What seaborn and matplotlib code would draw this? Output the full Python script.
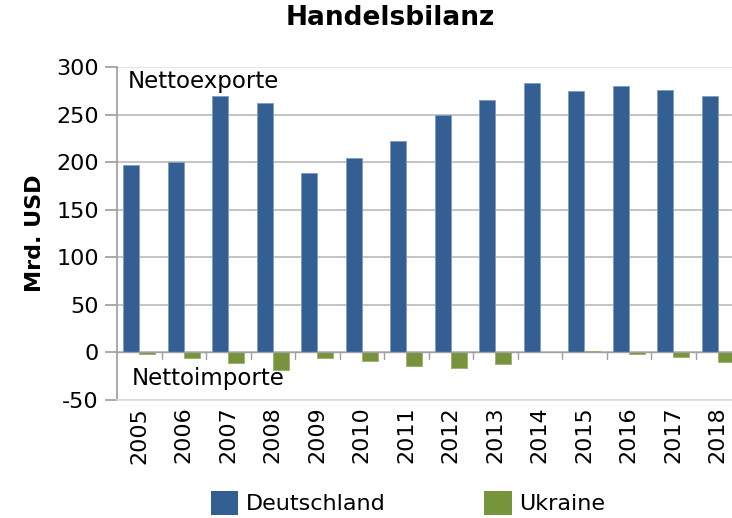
import matplotlib
matplotlib.use("Agg")
import matplotlib.pyplot as plt
import seaborn as sns
import pandas as pd
from matplotlib.patches import Patch

years = [str(y) for y in range(2005, 2019)]
deutschland = [197, 200, 270, 262, 189, 204, 222, 250, 265, 283, 275, 280, 276, 270]
ukraine = [-2, -6, -11.5, -18, -6, -9, -14, -16, -12.5, 0, 1.5, -1.5, -5, -10]
series = ["Deutschland", "Ukraine"]
colors = ["#335f93", "#77933c"]

df = pd.DataFrame({
    "Jahr": years * 2,
    "Wert": deutschland + ukraine,
    "Land": [series[0]] * len(years) + [series[1]] * len(years),
})

sns.set_theme(style="white")
plt.rcParams['font.family'] = ['DejaVu Sans']
plt.rcParams['axes.unicode_minus'] = False
plt.rcParams['text.color'] = 'black'
plt.rcParams['axes.labelcolor'] = 'black'
plt.rcParams['xtick.color'] = 'black'
plt.rcParams['ytick.color'] = 'black'

fig = plt.figure(figsize=(7.32, 5.18), dpi=100)
ax = fig.add_axes([117 / 732, 1 - 400 / 518, 623 / 732, 333 / 518])

sns.barplot(data=df, x="Jahr", y="Wert", hue="Land", palette=colors,
            width=0.71, ax=ax, legend=False, saturation=1, zorder=2,
            linewidth=0.6, edgecolor="#7f9cc0")
for p in ax.patches:
    if p.get_facecolor()[1] > 0.5:
        p.set_edgecolor("#9ab06a")

ax.set_xlim(-0.5, len(years) - 0.5)
ax.set_ylim(-50, 300)
ax.set_yticks(range(-50, 301, 50))
ax.yaxis.grid(True, color="#b4b4b4", lw=1.1)
ax.get_ygridlines()[-1].set_color("#dcdcdc")
ax.get_ygridlines()[0].set_color("#dcdcdc")
ax.set_axisbelow(True)
ax.tick_params(axis="y", labelsize=16, length=9, color="#a0a0a0", labelcolor="black",
               direction="out", pad=4, left=True)
ax.set_xticks([])
ax.set_xlabel("")
ax.set_ylabel("Mrd. USD", fontsize=16, fontweight="bold", labelpad=8, color="black")

for s in ["top", "right"]:
    ax.spines[s].set_visible(False)
ax.spines["left"].set_color("#a0a0a0")
ax.spines["bottom"].set_color("#dcdcdc")
ax.spines["bottom"].set_linewidth(1.2)

# zero axis line with category ticks
ax.axhline(0, color="#a0a0a0", lw=1, zorder=3)
for i in range(1, len(years)):
    ax.plot([i - 0.5, i - 0.5], [0, -7], color="#a0a0a0", lw=1, clip_on=False, zorder=3)

# category labels below plot
for i, y in enumerate(years):
    ax.text(i, -57, y, rotation=90, ha="center", va="top", fontsize=16, color="black")

ax.text(-0.25, 285, "Nettoexporte", fontsize=16.5, ha="left", va="center", color="black")
ax.text(-0.16, -27, "Nettoimporte", fontsize=16.5, ha="left", va="center", color="black")

fig.suptitle("Handelsbilanz", fontsize=19, fontweight="bold", x=390 / 732, y=1 - 18 / 518,
             va="center", color="black")

handles = [Patch(facecolor=c, edgecolor="none") for c in colors]
fig.legend(handles, series, loc="center", bbox_to_anchor=(408 / 732, 1 - 503 / 518),
           ncol=2, frameon=False, fontsize=16, handlelength=1.25, handleheight=1.25,
           columnspacing=4.4, handletextpad=0.35)

fig.savefig("out.png", dpi=100)
